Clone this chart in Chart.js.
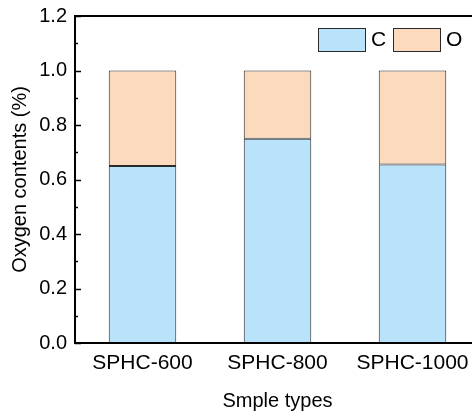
<!DOCTYPE html>
<html>
<head>
<meta charset="utf-8">
<script src="https://cdn.jsdelivr.net/npm/chart.js@4/dist/chart.umd.min.js"></script>
<style>
  html, body { margin: 0; padding: 0; background: #fff; }
  #wrap { width: 472px; height: 418px; overflow: hidden; position: relative; }
  #chart { display: block; }
</style>
</head>
<body>
<div id="wrap"><canvas id="chart" width="490" height="418"></canvas></div>
<script>
// Sample groups and element fractions
const sampleTypes = ['SPHC-600', 'SPHC-800', 'SPHC-1000'];
const carbonShare = [0.65, 0.75, 0.655];
const oxygenShare = [0.35, 0.25, 0.345];
const seriesNames = ['C', 'O'];

// y axis range
const yMin = 0;
const yMax = 1.2;
const yStep = 0.2;

const fontFamily = '"Liberation Sans", Arial, sans-serif';

// Frame lines, inward ticks and legend boxes
const framePlugin = {
    id: 'frame',
    afterDatasetsDraw(chart) {
        const ctx = chart.ctx;
        const area = chart.chartArea;
        const y = chart.scales.y;
        ctx.save();
        ctx.strokeStyle = '#000';
        ctx.lineWidth = 2;
        ctx.beginPath();
        ctx.moveTo(area.left, area.top);
        ctx.lineTo(area.right, area.top);
        ctx.moveTo(area.left, area.top - 1);
        ctx.lineTo(area.left, area.bottom + 1);
        ctx.moveTo(area.left - 1, area.bottom);
        ctx.lineTo(area.right, area.bottom);
        ctx.stroke();

        // major and minor ticks pointing into the plot
        ctx.lineWidth = 1.5;
        ctx.beginPath();
        for (let v = yMin; v <= yMax + 1e-9; v += yStep / 2) {
            const py = Math.round(y.getPixelForValue(v)) + 0.5;
            const major = Math.abs(v / yStep - Math.round(v / yStep)) < 1e-6;
            ctx.moveTo(area.left, py);
            ctx.lineTo(area.left + (major ? 6 : 3), py);
        }
        ctx.stroke();

        // legend
        const boxes = [[318, 28], [393, 28]];
        ctx.font = '21px ' + fontFamily;
        ctx.textBaseline = 'middle';
        ctx.fillStyle = '#000';
        chart.data.datasets.forEach((ds, i) => {
            const [bx, by] = boxes[i];
            ctx.fillStyle = ds.backgroundColor;
            ctx.fillRect(bx, by, 47, 23);
            ctx.strokeStyle = ds.borderColor;
            ctx.lineWidth = 1;
            ctx.strokeRect(bx + 0.5, by + 0.5, 47, 23);
            ctx.fillStyle = '#000';
            ctx.fillText(ds.label, bx + 53, by + 12);
        });
        ctx.restore();
    }
};

new Chart(document.getElementById('chart'), {
    type: 'bar',
    data: {
        labels: sampleTypes,
        datasets: [
            {
                label: seriesNames[0],
                data: carbonShare,
                backgroundColor: '#B9E3FB',
                borderColor: '#2a2a2a',
                borderWidth: 1,
                borderSkipped: false
            },
            {
                label: seriesNames[1],
                data: oxygenShare,
                backgroundColor: '#FBDABD',
                borderColor: '#2a2a2a',
                borderWidth: 1,
                borderSkipped: false
            }
        ]
    },
    options: {
        responsive: false,
        animation: false,
        layout: { padding: { top: 16, right: 10, left: 0, bottom: 0 } },
        datasets: { bar: { categoryPercentage: 1, barPercentage: 0.5 } },
        plugins: {
            legend: { display: false },
            tooltip: { enabled: false }
        },
        scales: {
            x: {
                stacked: true,
                grid: { display: false, drawTicks: false },
                border: { display: false },
                ticks: { color: '#000', padding: 8, font: { family: fontFamily, size: 21 } },
                title: {
                    display: true,
                    text: 'Smple types',
                    color: '#000',
                    padding: { top: 0, bottom: 5 },
                    font: { family: fontFamily, size: 20 }
                },
                afterFit(scale) {
                    scale.height = 75;
                    scale.paddingLeft = 0;
                    scale.paddingRight = 0;
                }
            },
            y: {
                stacked: true,
                min: yMin,
                max: yMax,
                grid: { display: false, drawTicks: false },
                border: { display: false },
                ticks: {
                    stepSize: yStep,
                    color: '#000',
                    padding: 8,
                    font: { family: fontFamily, size: 20 },
                    callback: v => Number(v).toFixed(1)
                },
                title: {
                    display: true,
                    text: 'Oxygen contents (%)',
                    color: '#000',
                    padding: { top: 8, bottom: 0 },
                    font: { family: fontFamily, size: 20 }
                },
                afterFit(scale) {
                    scale.width = 75;
                    scale.paddingTop = 0;
                    scale.paddingBottom = 0;
                }
            }
        }
    },
    plugins: [framePlugin]
});
</script>
</body>
</html>
